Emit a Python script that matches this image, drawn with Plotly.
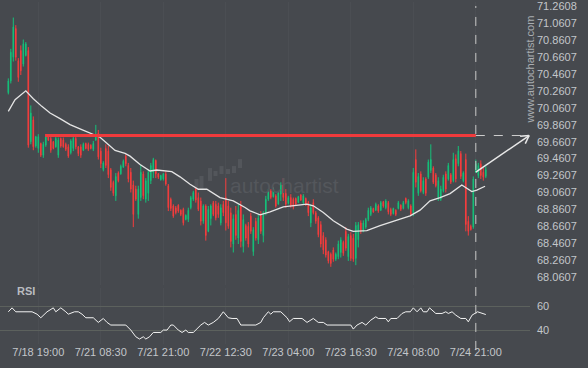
import math
import plotly.graph_objects as go

# ---------------- data ----------------
open_ = [70.24, 70.38, 70.66, 71.00, 70.62, 70.74, 70.58, 70.68, 70.74, 69.66,
         69.92, 69.61, 69.58, 69.64, 69.50, 69.62, 69.72, 69.70, 69.66, 69.60,
         69.50, 69.70, 69.68, 69.63, 69.60, 69.53, 69.58, 69.70, 69.60, 69.60,
         69.56, 69.64, 69.63, 69.62, 69.57, 69.68, 69.76, 69.55, 69.33, 69.58,
         69.55, 69.33, 69.18, 69.02, 69.29, 69.28, 69.36, 69.49, 69.38, 69.30,
         69.15, 69.10, 68.80, 69.00, 69.28, 68.98, 69.05, 69.20, 69.30, 69.44,
         69.28, 69.21, 69.22, 69.28, 69.14, 68.98, 68.90, 68.88, 68.91, 68.85,
         68.86, 68.74, 68.74, 68.88, 68.98, 69.10, 69.00, 68.96, 68.72, 68.90,
         68.60, 68.75, 68.94, 68.92, 68.90, 68.70, 68.92, 69.00, 68.90, 68.82,
         68.45, 68.80, 68.52, 68.90, 68.42, 68.67, 68.66, 68.78, 68.36, 68.72,
         68.50, 68.80, 68.55, 68.82, 68.98, 69.08, 69.01, 69.02, 68.92, 69.04,
         69.15, 69.05, 68.93, 69.00, 68.98, 68.99, 68.94, 69.03, 68.94, 68.99,
         68.94, 68.70, 68.94, 68.82, 68.76, 68.68, 68.55, 68.50, 68.36, 68.33,
         68.38, 68.27, 68.30, 68.35, 68.47, 68.60, 68.30, 68.55, 68.52, 68.28,
         68.50, 68.70, 68.60, 68.65, 68.74, 68.80, 68.87, 68.85, 68.90, 68.85,
         68.95, 68.88, 68.94, 68.86, 68.81, 68.85, 68.87, 68.91, 68.87, 68.99,
         68.88, 68.90, 68.82, 69.45, 69.05, 69.28, 69.06, 69.22, 69.24, 69.32,
         69.35, 69.27, 69.00, 68.98, 69.08, 69.28, 69.22, 69.27, 69.20, 69.46,
         69.40, 69.52, 69.20, 69.45, 68.72, 68.66, 68.65, 69.30, 69.26, 69.40,
         69.30, 69.25]
high = [70.41, 70.76, 71.13, 71.04, 70.65, 70.80, 70.87, 70.84, 70.78, 70.09,
        69.96, 69.73, 69.75, 69.65, 69.66, 69.74, 69.73, 69.73, 69.67, 69.73,
        69.71, 69.71, 69.71, 69.65, 69.63, 69.69, 69.73, 69.73, 69.61, 69.63,
        69.65, 69.65, 69.65, 69.63, 69.67, 69.86, 69.80, 69.59, 69.43, 69.63,
        69.61, 69.35, 69.20, 69.29, 69.31, 69.39, 69.45, 69.51, 69.41, 69.35,
        69.20, 69.14, 69.14, 69.39, 69.31, 69.23, 69.33, 69.41, 69.47, 69.45,
        69.29, 69.27, 69.29, 69.31, 69.16, 69.00, 68.92, 68.90, 68.92, 68.86,
        68.88, 68.80, 68.88, 69.02, 69.08, 69.12, 69.06, 69.00, 68.92, 68.92,
        68.90, 68.92, 68.96, 68.96, 68.94, 68.92, 68.96, 69.23, 68.96, 68.88,
        68.80, 68.90, 68.92, 68.96, 68.80, 68.69, 68.71, 68.82, 68.65, 68.76,
        68.80, 68.84, 68.84, 69.02, 69.10, 69.10, 69.12, 69.04, 69.08, 69.18,
        69.23, 69.10, 69.02, 69.04, 69.00, 69.00, 69.02, 69.04, 69.04, 69.00,
        68.96, 68.92, 68.98, 68.84, 68.78, 68.72, 68.59, 68.53, 68.37, 68.35,
        68.41, 68.35, 68.49, 68.53, 68.49, 68.65, 68.57, 68.59, 68.57, 68.71,
        68.71, 68.73, 68.73, 68.76, 68.88, 68.90, 68.88, 68.94, 68.92, 68.96,
        68.96, 68.98, 68.96, 68.88, 68.88, 68.86, 68.96, 68.92, 68.96, 69.00,
        68.98, 68.92, 69.35, 69.57, 69.29, 69.31, 69.24, 69.24, 69.45, 69.63,
        69.37, 69.29, 69.24, 69.14, 69.27, 69.31, 69.41, 69.29, 69.53, 69.51,
        69.61, 69.55, 69.31, 69.52, 68.78, 68.68, 69.25, 69.45, 69.41, 69.44,
        69.35, 69.37]
low = [70.22, 70.35, 70.61, 70.62, 70.37, 70.45, 70.55, 70.67, 69.59, 69.63,
       69.56, 69.59, 69.53, 69.48, 69.47, 69.60, 69.67, 69.53, 69.57, 69.59,
       69.47, 69.59, 69.59, 69.55, 69.47, 69.51, 69.55, 69.57, 69.49, 69.47,
       69.55, 69.57, 69.55, 69.57, 69.55, 69.67, 69.45, 69.35, 69.31, 69.35,
       69.23, 69.08, 69.02, 68.96, 69.18, 69.27, 69.35, 69.37, 69.18, 69.06,
       68.65, 68.96, 68.75, 68.96, 68.98, 68.94, 68.96, 69.16, 69.23, 69.23,
       69.22, 69.20, 69.20, 69.14, 68.84, 68.84, 68.76, 68.80, 68.82, 68.78,
       68.67, 68.73, 68.71, 68.86, 68.96, 68.94, 68.84, 68.67, 68.69, 68.49,
       68.59, 68.67, 68.78, 68.73, 68.76, 68.67, 68.78, 68.61, 68.63, 68.41,
       68.35, 68.50, 68.45, 68.41, 68.35, 68.49, 68.41, 68.57, 68.31, 68.49,
       68.45, 68.57, 68.47, 68.79, 68.96, 68.98, 69.00, 68.88, 68.92, 68.96,
       68.96, 68.88, 68.92, 68.88, 68.86, 68.90, 68.94, 68.96, 68.92, 68.90,
       68.78, 68.65, 68.80, 68.69, 68.53, 68.41, 68.33, 68.29, 68.22, 68.18,
       68.24, 68.25, 68.27, 68.29, 68.31, 68.37, 68.25, 68.25, 68.24, 68.20,
       68.41, 68.57, 68.59, 68.63, 68.72, 68.78, 68.82, 68.84, 68.82, 68.84,
       68.88, 68.86, 68.80, 68.78, 68.80, 68.78, 68.86, 68.84, 68.86, 68.92,
       68.86, 68.78, 68.78, 69.12, 69.02, 69.06, 69.04, 69.02, 69.22, 69.29,
       69.16, 69.12, 68.96, 68.96, 69.06, 69.06, 69.20, 69.16, 69.18, 69.18,
       69.37, 69.22, 69.18, 68.60, 68.55, 68.61, 68.63, 69.29, 69.23, 69.22,
       69.20, 69.23]
close = [70.38, 70.72, 71.02, 70.66, 70.42, 70.50, 70.82, 70.82, 69.62, 70.00,
         69.60, 69.72, 69.72, 69.50, 69.63, 69.72, 69.68, 69.56, 69.58, 69.70,
         69.68, 69.61, 69.60, 69.57, 69.49, 69.67, 69.70, 69.60, 69.52, 69.50,
         69.63, 69.58, 69.57, 69.58, 69.64, 69.75, 69.48, 69.40, 69.41, 69.38,
         69.27, 69.12, 69.05, 69.25, 69.20, 69.37, 69.43, 69.40, 69.22, 69.10,
         68.80, 68.98, 69.10, 69.30, 69.02, 69.20, 69.30, 69.38, 69.45, 69.28,
         69.24, 69.26, 69.28, 69.16, 68.88, 68.87, 68.78, 68.82, 68.84, 68.80,
         68.70, 68.79, 68.85, 69.00, 69.06, 68.97, 68.86, 68.72, 68.90, 68.55,
         68.86, 68.90, 68.80, 68.76, 68.80, 68.88, 68.82, 68.70, 68.66, 68.48,
         68.75, 68.55, 68.85, 68.48, 68.74, 68.52, 68.45, 68.60, 68.62, 68.52,
         68.76, 68.60, 68.82, 68.98, 69.08, 69.00, 69.10, 68.90, 69.06, 69.15,
         69.00, 68.92, 69.00, 68.90, 68.89, 68.92, 69.01, 68.97, 69.02, 68.92,
         68.82, 68.88, 68.82, 68.72, 68.56, 68.45, 68.38, 68.32, 68.25, 68.22,
         68.27, 68.33, 68.45, 68.50, 68.34, 68.40, 68.54, 68.28, 68.27, 68.67,
         68.68, 68.60, 68.70, 68.74, 68.85, 68.88, 68.83, 68.92, 68.84, 68.94,
         68.90, 68.96, 68.83, 68.80, 68.87, 68.80, 68.94, 68.86, 68.94, 68.94,
         68.96, 68.80, 69.30, 69.18, 69.25, 69.08, 69.20, 69.05, 69.42, 69.45,
         69.18, 69.14, 69.20, 69.10, 69.24, 69.10, 69.38, 69.18, 69.45, 69.22,
         69.55, 69.25, 69.29, 68.68, 68.60, 68.62, 69.22, 69.40, 69.38, 69.26,
         69.24, 69.33]
candle_idx = list(range(len(close)))

ma_idx = [0, 2.7, 7, 10, 13.4, 16.7, 20.7, 24.7, 29.4, 34, 36.7, 40, 42.7, 46.7,
          48.7, 52.7, 56.7, 59.4, 65.4, 68.7, 72.7, 76, 79.4, 84.7, 90, 94.7,
          96.7, 100.7, 104.7, 110, 114, 119.4, 122, 126, 130, 135.4, 138, 143.4,
          148.7, 154, 160.7, 164.7, 168.7, 172.7, 176.7, 181.4, 183.4, 185.4,
          187.4, 190.7]
ma_val = [70.02, 70.157, 70.263, 70.169, 70.079, 70.0, 69.934, 69.863, 69.804,
          69.753, 69.714, 69.628, 69.557, 69.522, 69.49, 69.392, 69.314, 69.326,
          69.306, 69.245, 69.157, 69.098, 69.098, 69.0, 68.961, 68.882, 68.843,
          68.796, 68.831, 68.89, 68.902, 68.922, 68.902, 68.823, 68.725, 68.627,
          68.60, 68.608, 68.667, 68.717, 68.784, 68.851, 68.961, 69.0, 69.047,
          69.149, 69.11, 69.07, 69.087, 69.134]

rsi_idx = [0, 1.5, 3, 9.5, 11.5, 13, 15.5, 18, 19, 21, 23, 24, 26.5, 28, 29.5,
           31, 34, 36, 38, 39.5, 41, 47, 49, 51, 52.5, 54, 55, 56.5, 58, 61, 62,
           63.5, 65, 66, 68, 69.5, 71, 72, 74, 75.5, 77, 78.5, 80, 82, 84, 86,
           88, 89.5, 91.5, 93, 99, 101, 102, 104, 105, 106, 109, 111.5, 112.5,
           114, 117.5, 119.5, 122, 124, 126, 127.5, 137, 138, 139.5, 141.5, 143,
           145, 147, 148, 151, 152, 153, 155.5, 157.5, 159, 160.8, 162, 163.5,
           165, 166, 167.5, 168.5, 171, 173.5, 175, 176, 177.5, 179, 181, 183,
           184, 185.5, 187.7, 189.5, 191]
rsi_val = [55.3, 58.6, 55.3, 55.3, 53.3, 50.3, 55.3, 58.6, 55.3, 58.6, 55.3,
           53.3, 55.3, 55.3, 53.3, 50.3, 50.3, 46.4, 49.7, 46.4, 44.2, 44.2,
           40.0, 34.4, 32.5, 34.4, 32.5, 34.4, 38.0, 38.0, 40.0, 40.0, 44.2,
           44.2, 40.0, 38.0, 40.0, 38.0, 38.0, 41.4, 44.2, 46.4, 44.2, 46.4,
           49.7, 55.3, 50.3, 49.7, 49.7, 44.2, 44.2, 46.4, 50.3, 55.3, 53.3,
           55.3, 55.3, 50.3, 47.0, 49.7, 49.7, 46.4, 49.7, 46.4, 46.4, 44.2,
           44.2, 40.8, 44.2, 46.4, 44.2, 48.3, 51.1, 49.7, 49.7, 46.9, 49.7,
           49.7, 53.9, 55.3, 55.3, 58.6, 55.3, 58.6, 55.3, 55.3, 58.6, 53.9,
           53.9, 55.3, 53.9, 55.3, 52.5, 49.7, 49.7, 46.9, 52.5, 55.3, 53.9,
           53.0]

x_tick_idx = [12, 37, 62, 87, 112, 137, 162, 187]
x_tick_text = ["7/18 19:00", "7/21 08:30", "7/21 21:00", "7/22 12:30",
               "7/23 04:00", "7/23 16:30", "7/24 08:00", "7/24 21:00"]
price_tick_vals = [71.2608, 71.0607, 70.8607, 70.6607, 70.4607, 70.2607,
                   70.0607, 69.8607, 69.6607, 69.4607, 69.2607, 69.0607,
                   68.8607, 68.6607, 68.4607, 68.2607, 68.0607]
price_tick_text = ["71.2608", "71.0607", "70.8607", "70.6607", "70.4607",
                   "70.2607", "70.0607", "69.8607", "69.6607", "69.4607",
                   "69.2607", "69.0607", "68.8607", "68.6607", "68.4607",
                   "68.2607", "68.0607"]
rsi_tick_vals = [40, 60]

level_value = 69.734      # resistance level
level_start_idx = 14.7
event_idx = 187           # dashed marker
arrow_from_value = 69.30

# ---------------- layout geometry ----------------
W, H = 588, 368
M_L, M_R, M_T, M_B = 0, 58, 0, 24
PW, PH = W - M_L - M_R, H - M_T - M_B
x_range = [-3.32, 208.68]
price_range = [67.961, 71.314]
rsi_range = [28.33, 75.0]
price_domain = [0.1715, 1.0]
rsi_domain = [0.0, 0.163]

BG = "#46494e"
TXT = "#c3c6ca"
GREEN = "#14c17a"
RED = "#f53d3d"
FONT = "Liberation Sans, Arial, sans-serif"

fig = go.Figure()

fig.add_trace(go.Candlestick(
    x=candle_idx, open=open_, high=high, low=low, close=close,
    increasing=dict(line=dict(color=GREEN, width=1), fillcolor=GREEN),
    decreasing=dict(line=dict(color=RED, width=1), fillcolor=RED),
    whiskerwidth=0, xaxis="x", yaxis="y", hoverinfo="skip",
))

fig.add_trace(go.Scatter(x=ma_idx, y=ma_val, mode="lines",
                         line=dict(color="#e4e4e4", width=1.3),
                         xaxis="x", yaxis="y", hoverinfo="skip"))

# resistance line
fig.add_trace(go.Scatter(x=[level_start_idx, event_idx], y=[level_value, level_value],
                         mode="lines", line=dict(color="#f03a3c", width=3),
                         xaxis="x", yaxis="y", hoverinfo="skip"))
# dashed extension
fig.add_trace(go.Scatter(x=[event_idx, x_range[1]], y=[level_value, level_value],
                         mode="lines", line=dict(color="#cfcfcf", width=1, dash="dash"),
                         xaxis="x", yaxis="y", hoverinfo="skip"))

# arrow (shaft + open chevron head) computed in pixel space
sx = PW / (x_range[1] - x_range[0])
sy = PH * (price_domain[1] - price_domain[0]) / (price_range[1] - price_range[0])
ax_end = x_range[1] - 0.35
dxp = (ax_end - event_idx) * sx
dyp = (level_value - arrow_from_value) * sy
ang = math.atan2(dyp, dxp)
wing = 9
pts_x, pts_y = [event_idx, ax_end, None], [arrow_from_value, level_value, None]
for da in (math.radians(150), math.radians(-150)):
    wx = ax_end + wing * math.cos(ang + da) / sx
    wy = level_value + wing * math.sin(ang + da) / sy
    pts_x += [wx, ax_end, None]
    pts_y += [wy, level_value, None]
fig.add_trace(go.Scatter(x=pts_x, y=pts_y, mode="lines",
                         line=dict(color="#e8e8e8", width=1.5),
                         xaxis="x", yaxis="y", hoverinfo="skip", cliponaxis=False))

# RSI
fig.add_trace(go.Scatter(x=rsi_idx, y=rsi_val, mode="lines",
                         line=dict(color="#f2f2f2", width=1),
                         xaxis="x", yaxis="y2", hoverinfo="skip"))

# watermark icon bars (decorative)
icon_px = [(194.5, 178, 188), (199.5, 175, 188), (208, 167, 180), (213.5, 170, 175),
           (219.5, 165, 173), (226, 168, 173), (232, 165, 172), (238, 158, 167)]
shapes = []
for (px, top, bot) in icon_px:
    shapes.append(dict(type="rect", xref="paper", yref="paper",
                       x0=px / PW, x1=(px + 4) / PW,
                       y0=1 - bot / PH, y1=1 - top / PH,
                       fillcolor="#53565b", line=dict(width=0), layer="below"))

# dashed event marker
shapes.append(dict(type="line", xref="x", yref="paper", x0=event_idx, x1=event_idx,
                   y0=-6 / PH, y1=1 - 4 / PH,
                   line=dict(color="#c8c8c8", width=1, dash="dash")))

fig.update_layout(
    width=W, height=H,
    margin=dict(l=M_L, r=M_R, t=M_T, b=M_B),
    paper_bgcolor=BG, plot_bgcolor=BG,
    showlegend=False,
    boxgap=0.62,
    hovermode=False,
    font=dict(family=FONT, color=TXT, size=11),
    xaxis=dict(range=x_range, anchor="y2", tickvals=x_tick_idx, ticktext=x_tick_text,
               showgrid=True, gridcolor="#4b4e53", zeroline=False, showline=False,
               ticks="", tickfont=dict(size=11, color=TXT), rangeslider=dict(visible=False),
               fixedrange=True),
    yaxis=dict(domain=price_domain, range=price_range, side="right",
               tickvals=price_tick_vals, ticktext=price_tick_text,
               showgrid=False, zeroline=False, showline=False, ticks="",
               tickfont=dict(size=11, color=TXT), ticklabelstandoff=6, anchor="x",
               ticklabeloverflow="allow", fixedrange=True),
    yaxis2=dict(domain=rsi_domain, range=rsi_range, side="right",
                tickvals=rsi_tick_vals, showgrid=True, gridcolor="#5c615d",
                zeroline=False, showline=False, ticks="",
                tickfont=dict(size=11, color=TXT), ticklabelstandoff=6, anchor="x",
                fixedrange=True),
    shapes=shapes,
    annotations=[
        dict(text="RSI", xref="paper", yref="paper", x=15 / PW, y=1 - 291 / PH,
             xanchor="left", yanchor="middle", showarrow=False,
             font=dict(size=11, color="#b9bcc0", family=FONT, weight="bold")),
        dict(text="www.autochartist.com", xref="paper", yref="paper",
             x=1.0, y=1 - 68 / PH, textangle=-90, xanchor="center", yanchor="middle",
             showarrow=False, font=dict(size=11, color="#a9adb1", family=FONT)),
        dict(text="autochartist", xref="paper", yref="paper",
             x=284 / PW, y=1 - 185 / PH, xanchor="center", yanchor="middle",
             showarrow=False, font=dict(size=21, color="#54575c", family=FONT)),
    ],
)

fig.write_html("out.html",
               config={"displayModeBar": False, "staticPlot": True},
               post_script="document.body.style.margin='0px';document.body.style.background='" + BG + "';")
